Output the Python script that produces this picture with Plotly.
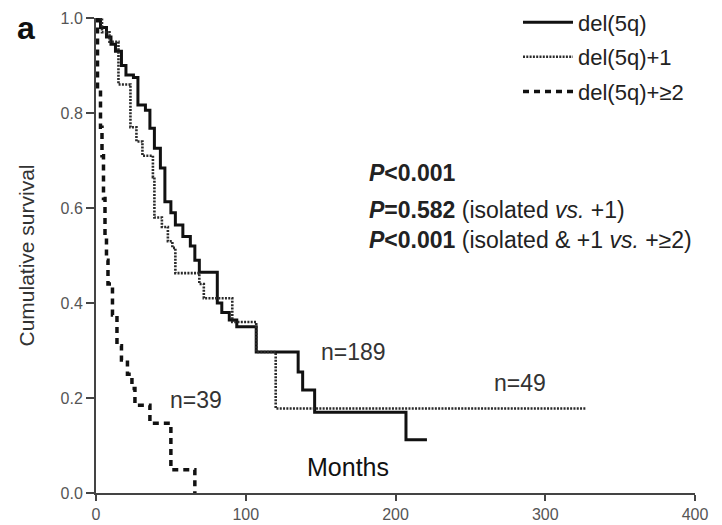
import plotly.graph_objects as go

# del(5q) isolated (n=189)
t_iso = [0, 3, 7, 10, 13, 17, 20, 25, 28, 33, 36, 39, 43, 46, 50, 53, 58, 63, 66, 69, 81, 84, 89, 94, 107, 135, 138, 146, 207, 221]
s_iso = [1.0, 0.98, 0.96, 0.945, 0.93, 0.90, 0.88, 0.875, 0.817, 0.806, 0.768, 0.726, 0.684, 0.613, 0.59, 0.564, 0.54, 0.52, 0.49, 0.465, 0.40, 0.38, 0.364, 0.35, 0.297, 0.255, 0.217, 0.17, 0.112, 0.112]

# del(5q)+1 (n=49)
t_p1 = [0, 4, 9, 15, 23, 27, 31, 38, 39, 44, 48, 51, 53, 69, 72, 91, 107, 120, 327]
s_p1 = [1.0, 0.97, 0.95, 0.86, 0.77, 0.74, 0.71, 0.665, 0.58, 0.56, 0.53, 0.516, 0.463, 0.44, 0.41, 0.36, 0.297, 0.178, 0.178]

# del(5q)+>=2 (n=39)
t_p2 = [0, 1, 3, 4, 5, 6, 7, 8, 11, 14, 17, 21, 24, 26, 36, 50, 66]
s_p2 = [1.0, 0.85, 0.77, 0.71, 0.62, 0.54, 0.49, 0.44, 0.375, 0.31, 0.28, 0.25, 0.22, 0.185, 0.147, 0.049, 0.0]

names = ["del(5q)", "del(5q)+1", "del(5q)+≥2"]
x_ticks = [0, 100, 200, 300, 400]
y_ticks = [0.0, 0.2, 0.4, 0.6, 0.8, 1.0]

FONT = "Liberation Sans, Arial, sans-serif"

fig = go.Figure()
fig.add_trace(go.Scatter(x=t_iso, y=s_iso, mode="lines", line_shape="hv", name=names[0], legendgroup="a",
                         line=dict(color="#111111", width=3)))
fig.add_trace(go.Scatter(x=t_p1, y=s_p1, mode="lines", line_shape="hv", name=names[1], legendgroup="b",
                         line=dict(color="#2a2a2a", width=2.6, dash="2px,1.3px")))
fig.add_trace(go.Scatter(x=t_p2, y=s_p2, mode="lines", line_shape="hv", name=names[2], legendgroup="c",
                         line=dict(color="#111111", width=3.5, dash="6px,5px")))

ann = []
def txt(x, y, text, size=23, color="#222222", xanchor="center", xref="x", yref="y"):
    ann.append(dict(x=x, y=y, xref=xref, yref=yref, text=text, showarrow=False,
                    xanchor=xanchor, yanchor="middle", font=dict(family=FONT, size=size, color=color)))

txt(181, 0.674, "<b><i>P</i>&lt;0.001</b>", xanchor="left")
txt(181, 0.596, "<b><i>P</i>=0.582</b> (isolated <i>vs.</i> +1)", xanchor="left")
txt(181, 0.533, "<b><i>P</i>&lt;0.001</b> (isolated &amp; +1 <i>vs.</i> +≥2)", xanchor="left")
txt(172, 0.297, "n=189", color="#333333")
txt(67, 0.196, "n=39", color="#333333")
txt(283, 0.232, "n=49", color="#333333")
txt(168, 0.055, "Months", size=25, color="#111111")
txt(-0.117, 0.978, "<b>a</b>", size=32, color="#111111", xref="paper", yref="paper")

fig.update_layout(
    width=722, height=525,
    margin=dict(l=96, r=27, t=18, b=32, autoexpand=False),
    paper_bgcolor="white", plot_bgcolor="white",
    font=dict(family=FONT, size=16, color="#444444"),
    showlegend=True,
    legend=dict(x=0.7045, y=1.035, xanchor="left", yanchor="top", bgcolor="rgba(0,0,0,0)",
                font=dict(family=FONT, size=22, color="#222222"), tracegroupgap=3, itemwidth=50),
    annotations=ann,
)
fig.update_xaxes(range=[0, 400], tickvals=x_ticks, ticktext=[str(v) for v in x_ticks],
                 showgrid=False, zeroline=False, showline=True, linecolor="#444444", linewidth=2,
                 ticks="outside", ticklen=6, tickwidth=2, tickcolor="#444444",
                 tickfont=dict(size=16, color="#555555"))
fig.update_yaxes(range=[0, 1], tickvals=y_ticks, ticktext=[f"{v:.1f}" for v in y_ticks],
                 showgrid=False, zeroline=False, showline=True, linecolor="#444444", linewidth=2,
                 ticks="outside", ticklen=8, tickwidth=2, tickcolor="#444444",
                 tickfont=dict(size=16, color="#555555"),
                 title=dict(text="Cumulative survival", font=dict(size=21, color="#333333"), standoff=20))

fig.write_html("out.html", config={"displayModeBar": False},
               post_script="document.body.style.margin='0';")
